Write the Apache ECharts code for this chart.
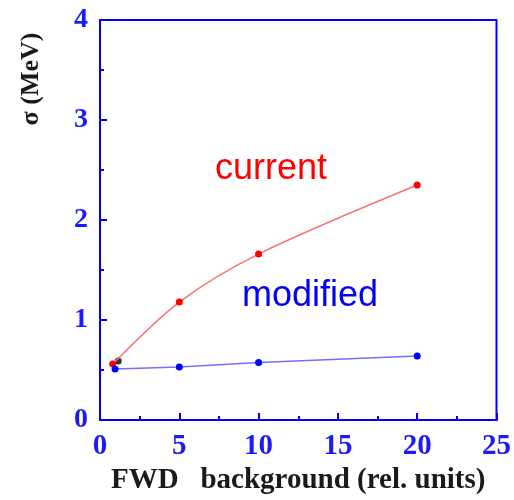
<!DOCTYPE html>
<html>
<head>
<meta charset="utf-8">
<script src="https://cdn.jsdelivr.net/npm/echarts@6/dist/echarts.min.js"></script>
<style>html,body{margin:0;padding:0;background:#fff;}#c{width:514px;height:500px;}</style>
</head>
<body>
<div id="c"></div>
<script>
const currentX = [0.8, 5, 10, 20];
const currentY = [0.56, 1.18, 1.66, 2.35];
const modifiedX = [0.95, 5, 10, 20];
const modifiedY = [0.51, 0.53, 0.576, 0.64];
const extraX = [1.15];
const extraY = [0.59];
const xTicks = [0, 5, 10, 15, 20, 25];
const yTicks = [0, 1, 2, 3, 4];

const pairs = (xs, ys) => xs.map((x, i) => [x, ys[i]]);
const chart = echarts.init(document.getElementById('c'));
const serif = '"Liberation Serif", "Times New Roman", serif';
const sans = '"Liberation Sans", Arial, sans-serif';
chart.setOption({
  animation: false,
  backgroundColor: '#fff',
  grid: { left: 100, right: 14, top: 20, bottom: 75, show: true, borderColor: '#0000ff', borderWidth: 2, backgroundColor: 'transparent' },
  xAxis: {
    type: 'value', min: xTicks[0], max: xTicks[xTicks.length - 1], interval: 5,
    axisLine: { show: true, lineStyle: { color: '#0000ff', width: 2 } },
    axisTick: { show: true, inside: true, length: 7, lineStyle: { color: '#0000ff', width: 2 } },
    minorTick: { show: true, splitNumber: 2, length: 4, lineStyle: { color: '#0000ff', width: 2 } },
    splitLine: { show: false },
    axisLabel: { color: '#1a1aff', fontFamily: serif, fontWeight: 'bold', fontSize: 29, margin: 12 },
    name: 'FWD   background (rel. units)',
    nameLocation: 'middle', nameGap: 45,
    nameTextStyle: { color: '#1a1a1a', fontFamily: serif, fontWeight: 'bold', fontSize: 29 }
  },
  yAxis: {
    type: 'value', min: yTicks[0], max: yTicks[yTicks.length - 1], interval: 1,
    axisLine: { show: true, lineStyle: { color: '#0000ff', width: 2 } },
    axisTick: { show: true, inside: true, length: 7, lineStyle: { color: '#0000ff', width: 2 } },
    minorTick: { show: true, splitNumber: 2, length: 4, lineStyle: { color: '#0000ff', width: 2 } },
    splitLine: { show: false },
    axisLabel: { color: '#1a1aff', fontFamily: serif, fontWeight: 'bold', fontSize: 28, margin: 12 }
  },
  graphic: [
    { type: 'text', x: 31, y: 79, rotation: Math.PI / 2, style: { text: 'σ (MeV)', fill: '#1a1a1a', font: 'bold 26px ' + serif, align: 'center', verticalAlign: 'middle' } },
    { type: 'text', x: 271, y: 169, style: { text: 'current', fill: '#ff0000', font: '36px ' + sans, align: 'center', verticalAlign: 'middle' } },
    { type: 'text', x: 310, y: 296, style: { text: 'modified', fill: '#0000ff', font: '36px ' + sans, align: 'center', verticalAlign: 'middle' } }
  ],
  series: [
    { type: 'line', data: pairs(currentX, currentY), smooth: 0.3, symbol: 'circle', symbolSize: 7,
      itemStyle: { color: '#ff0000' }, lineStyle: { color: '#ff7070', width: 1.5 } },
    { type: 'line', data: pairs(modifiedX, modifiedY), symbol: 'circle', symbolSize: 7,
      itemStyle: { color: '#0000ff' }, lineStyle: { color: '#7070ff', width: 1.5 } },
    { type: 'scatter', data: pairs(extraX, extraY), symbol: 'circle', symbolSize: 7, itemStyle: { color: '#000' } }
  ]
});
</script>
</body>
</html>
